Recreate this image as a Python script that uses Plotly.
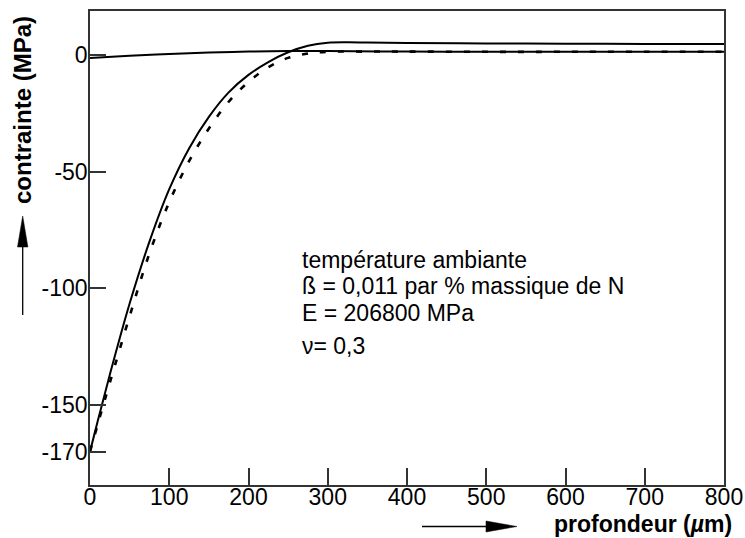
import plotly.graph_objects as go

# ---- data ----
x_main = [0, 10, 25, 50, 75, 100, 125, 150, 175, 200, 225, 250, 275, 300, 325, 350, 400, 500, 600, 700, 800]
y_main = [-170, -156.5, -137, -106.5, -80, -57.5, -40, -26.5, -16, -8.5, -3.0, 1.2, 4.0, 5.3, 5.5, 5.4, 5.2, 5.0, 4.9, 4.8, 4.7]

x_dash = [0, 10, 25, 50, 75, 100, 125, 150, 175, 200, 225, 250, 275, 300, 350, 400, 500, 600, 700, 800]
y_dash = [-170, -158, -140.5, -112, -85, -63, -45.5, -31.5, -20, -11.5, -5.2, -1.2, 0.7, 1.4, 1.5, 1.5, 1.4, 1.4, 1.4, 1.4]

x_zero = [0, 50, 100, 150, 200, 250, 300, 400, 500, 600, 700, 800]
y_zero = [-1.2, -0.3, 0.5, 1.1, 1.5, 1.7, 1.7, 1.5, 1.4, 1.4, 1.4, 1.4]

x_ticks = [0, 100, 200, 300, 400, 500, 600, 700, 800]
x_ticktext = ["0", "100", "200", "300", "400", "500", "600", "700", "800"]
y_ticks = [0, -50, -100, -150, -170]
y_ticktext = ["0", "-50", "-100", "-150", "-170"]

annot_lines = [
    "température ambiante",
    "ß = 0,011 par % massique de N",
    "E = 206800 MPa",
    "ν= 0,3",
]

# ---- layout geometry (pixels) ----
W, H = 745, 538
L, R, T, B = 90, 21, 11, 53
PW, PH = W - L - R, H - T - B

def px(x):
    return (x - L) / PW

def py(y):
    return (H - B - y) / PH

FONT = "Liberation Sans, Arial, Helvetica, sans-serif"

fig = go.Figure()
fig.add_trace(go.Scatter(x=x_zero, y=y_zero, mode="lines",
                         line=dict(color="black", width=2, shape="spline"), showlegend=False))
fig.add_trace(go.Scatter(x=x_dash, y=y_dash, mode="lines",
                         line=dict(color="black", width=2.6, dash="6px,12px", shape="spline"), showlegend=False))
fig.add_trace(go.Scatter(x=x_main, y=y_main, mode="lines",
                         line=dict(color="black", width=2, shape="spline"), showlegend=False))

axis_common = dict(showgrid=False, zeroline=False, showline=True, linecolor="#333",
                   linewidth=1.5, mirror=True, ticks="inside", tickcolor="#333",
                   tickwidth=1.5, automargin=False,
                   tickfont=dict(family=FONT, size=23, color="black"))

fig.update_xaxes(range=[0, 800], tickvals=x_ticks, ticktext=x_ticktext, ticklen=17,
                 ticklabelstandoff=-9, **axis_common)
fig.update_yaxes(range=[-184.3, 18.9], tickvals=y_ticks, ticktext=y_ticktext, ticklen=16,
                 ticklabelstandoff=-4, **axis_common)

annotations = []
centers = [260, 286, 313, 346]
for txt, yc in zip(annot_lines, centers):
    annotations.append(dict(text=txt, x=px(300), y=py(yc), xref="paper", yref="paper",
                            xanchor="left", yanchor="middle", showarrow=False,
                            font=dict(family=FONT, size=23, color="black")))
annotations.append(dict(text="<b>contrainte (MPa)</b>", x=px(22), y=py(110), xref="paper", yref="paper",
                        xanchor="center", yanchor="middle", textangle=-90, showarrow=False,
                        font=dict(family=FONT, size=24, color="black")))
annotations.append(dict(text="<b>profondeur (<i>µ</i>m)</b>", x=px(734), y=py(524), xref="paper", yref="paper",
                        xanchor="right", yanchor="middle", showarrow=False,
                        font=dict(family=FONT, size=23, color="black")))

shapes = [
    # vertical arrow (y-axis title)
    dict(type="line", xref="paper", yref="paper", x0=px(22.7), x1=px(22.7), y0=py(315), y1=py(240),
         line=dict(color="black", width=1.3)),
    dict(type="path", xref="paper", yref="paper", fillcolor="black", line=dict(color="black", width=0.5),
         path=f"M {px(22.7)},{py(216)} L {px(17.5)},{py(247)} L {px(27.9)},{py(247)} Z"),
    # horizontal arrow (x-axis title)
    dict(type="line", xref="paper", yref="paper", x0=px(422), x1=px(492), y0=py(526.5), y1=py(526.5),
         line=dict(color="black", width=1.3)),
    dict(type="path", xref="paper", yref="paper", fillcolor="black", line=dict(color="black", width=0.5),
         path=f"M {px(517)},{py(526.5)} L {px(486)},{py(521)} L {px(486)},{py(532)} Z"),
]

fig.update_layout(width=W, height=H, margin=dict(l=L, r=R, t=T, b=B, autoexpand=False),
                  paper_bgcolor="white", plot_bgcolor="white",
                  annotations=annotations, shapes=shapes, showlegend=False)

fig.write_html("out.html", config={"displayModeBar": False},
               post_script="document.body.style.margin='0';document.body.style.overflow='hidden';")
